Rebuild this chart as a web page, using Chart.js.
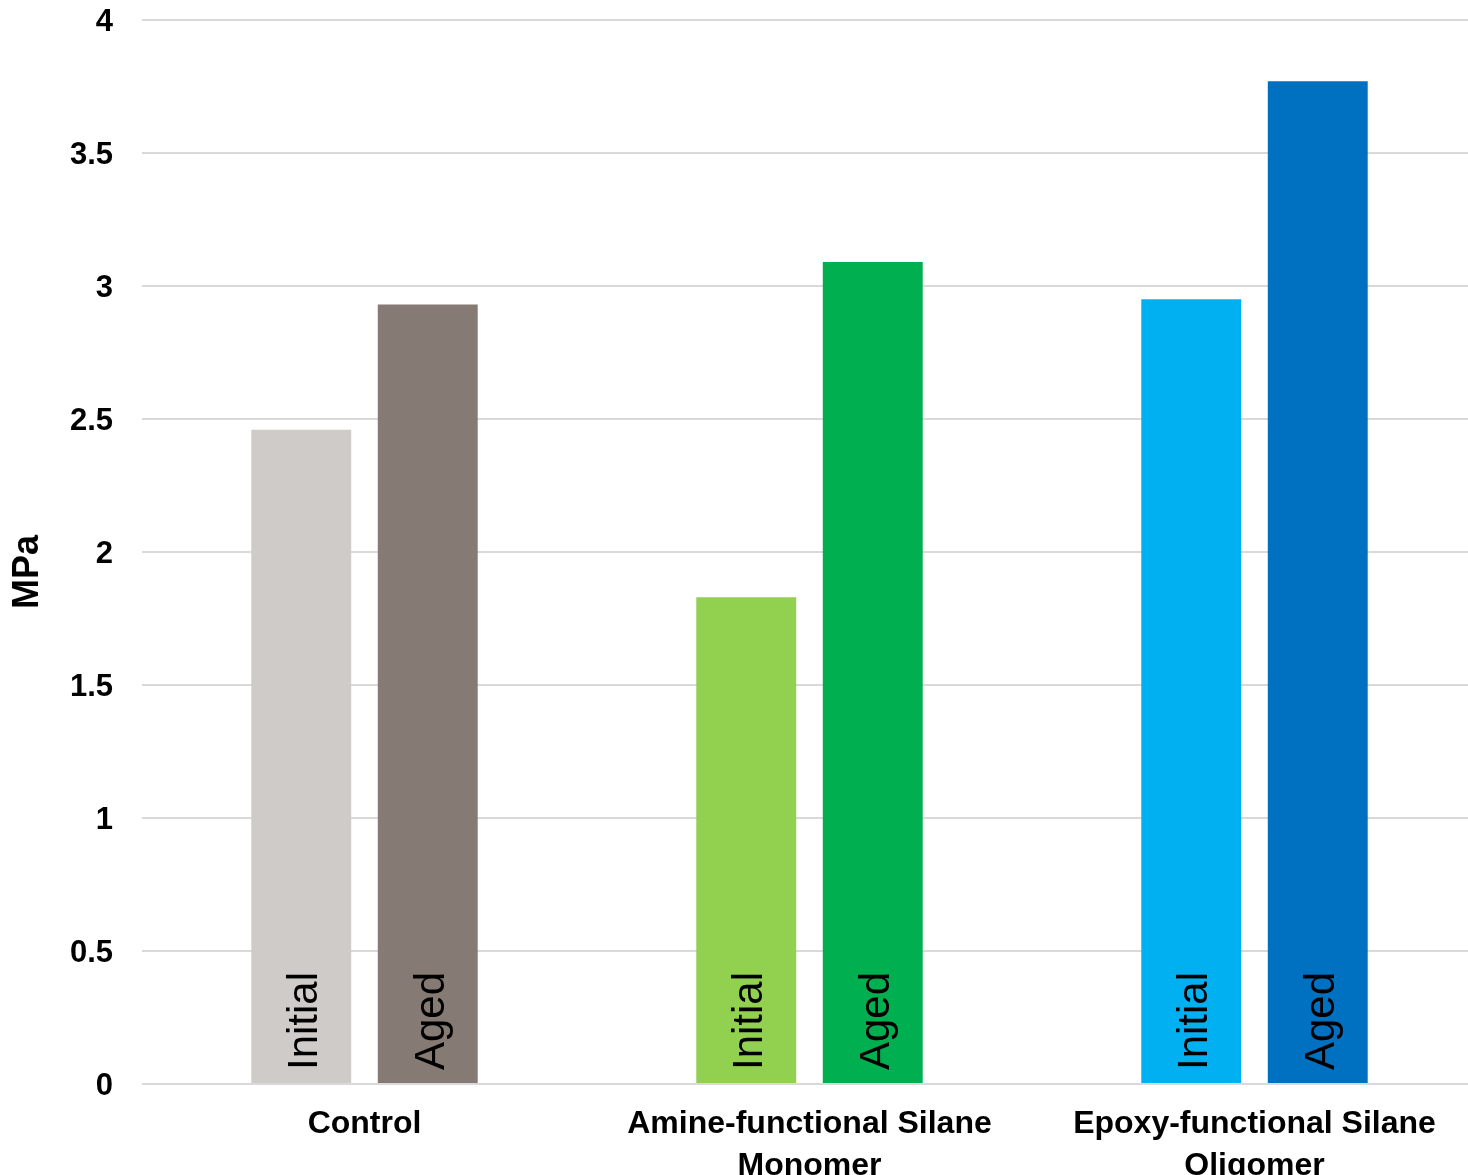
<!DOCTYPE html>
<html>
<head>
<meta charset="utf-8">
<script src="https://cdn.jsdelivr.net/npm/chart.js@4/dist/chart.umd.min.js"></script>
<style>
  html, body { margin: 0; padding: 0; background: #ffffff; overflow: hidden; }
  #wrap { width: 1468px; height: 1175px; overflow: hidden; position: relative; }
  canvas { display: block; }
</style>
</head>
<body>
<div id="wrap"><canvas id="chart" width="1477" height="1175"></canvas></div>
<script>
// Categories (multi-line labels as arrays)
const categories = [
  'Control',
  ['Amine-functional Silane', 'Monomer'],
  ['Epoxy-functional Silane', 'Oligomer']
];

// Series values (MPa)
const initialValues = [2.46, 1.83, 2.95];
const agedValues    = [2.93, 3.09, 3.77];

// Series names, also written inside the bars
const seriesNames = ['Initial', 'Aged'];

// Per-category bar colours
const initialColors = ['#cfcbc8', '#92d050', '#00b0f0'];
const agedColors    = ['#857b74', '#00b050', '#0070c0'];

// Y axis range and title
const yMin = 0;
const yMax = 4;
const yStep = 0.5;
const yTitle = 'MPa';

const FONT = "'Liberation Sans', Arial, Helvetica, sans-serif";

// Writes the series name vertically at the foot of each bar
const barNamePlugin = {
  id: 'barNames',
  afterDatasetsDraw(chart) {
    const ctx = chart.ctx;
    ctx.save();
    ctx.font = '42px ' + FONT;
    ctx.fillStyle = '#000000';
    ctx.textAlign = 'left';
    ctx.textBaseline = 'alphabetic';
    chart.data.datasets.forEach((ds, di) => {
      const meta = chart.getDatasetMeta(di);
      meta.data.forEach((bar) => {
        ctx.save();
        ctx.translate(bar.x + 16, bar.base - 13);
        ctx.rotate(-Math.PI / 2);
        ctx.fillText(ds.label, 0, 0);
        ctx.restore();
      });
    });
    ctx.restore();
  }
};

// Vertical y-axis title
const axisTitlePlugin = {
  id: 'axisTitle',
  afterDraw(chart) {
    const ctx = chart.ctx;
    const area = chart.chartArea;
    ctx.save();
    ctx.font = 'bold 36px ' + FONT;
    ctx.fillStyle = '#000000';
    ctx.textAlign = 'center';
    ctx.textBaseline = 'middle';
    ctx.translate(28, (area.top + area.bottom) / 2 + 20);
    ctx.rotate(-Math.PI / 2);
    ctx.fillText(yTitle, 0, 0);
    ctx.restore();
  }
};

new Chart(document.getElementById('chart'), {
  type: 'bar',
  data: {
    labels: categories,
    datasets: [
      {
        label: seriesNames[0],
        data: initialValues,
        backgroundColor: initialColors,
        borderWidth: 0,
        categoryPercentage: 0.5685,
        barPercentage: 0.79
      },
      {
        label: seriesNames[1],
        data: agedValues,
        backgroundColor: agedColors,
        borderWidth: 0,
        categoryPercentage: 0.5685,
        barPercentage: 0.79
      }
    ]
  },
  options: {
    responsive: false,
    animation: false,
    layout: { padding: { top: 20, right: 0, bottom: 0, left: 0 } },
    plugins: {
      legend: { display: false },
      tooltip: { enabled: false },
      title: { display: false }
    },
    scales: {
      x: {
        grid: { display: false, drawTicks: false },
        border: { display: false },
        ticks: {
          color: '#000000',
          font: { family: FONT, size: 32, weight: 'bold', lineHeight: 1.32 },
          padding: 19,
          maxRotation: 0,
          autoSkip: false
        },
        afterFit(scale) { scale.height = 91; }
      },
      y: {
        min: yMin,
        max: yMax,
        grid: { color: '#d9d9d9', lineWidth: 2, drawTicks: false },
        border: { display: false },
        ticks: {
          stepSize: yStep,
          color: '#000000',
          font: { family: FONT, size: 31, weight: 'bold' },
          padding: 29,
          labelOffset: 2,
          callback: (value) => String(value)
        },
        afterFit(scale) {
          scale.width = 142;
          scale.paddingTop = 0;
          scale.paddingBottom = 0;
        }
      }
    }
  },
  plugins: [barNamePlugin, axisTitlePlugin]
});
</script>
</body>
</html>
